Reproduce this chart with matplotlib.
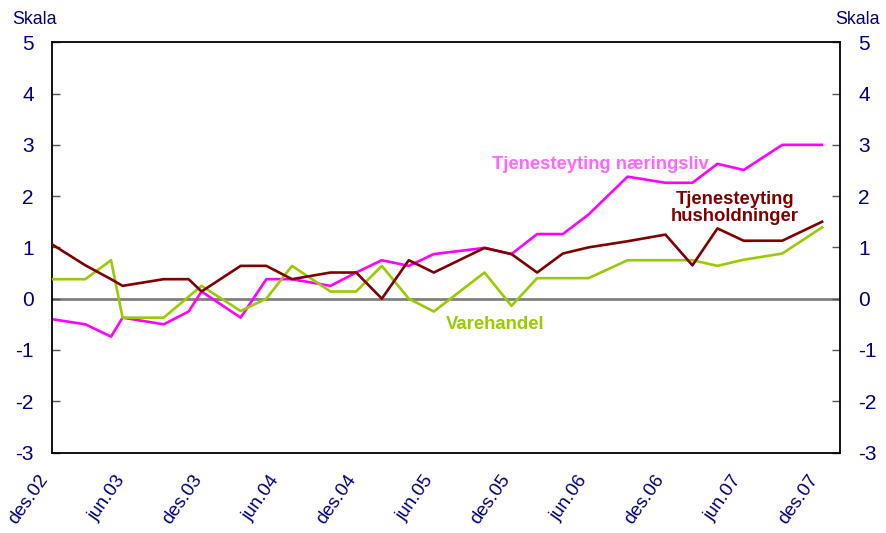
import matplotlib
matplotlib.use("Agg")
import matplotlib.pyplot as plt

plt.rcParams['font.family'] = ['Liberation Sans', 'DejaVu Sans']

# months after des.02 for each survey round
months = [0.0, 2.6, 4.6, 5.5, 8.7, 10.65, 11.65, 14.7, 16.7, 18.7, 21.7, 23.7, 25.7,
          27.8, 29.75, 33.7, 35.8, 37.8, 39.8, 41.8, 44.85, 47.8, 49.9, 51.85, 53.9,
          56.9, 60.0]

naeringsliv = [-0.40, -0.50, -0.74, -0.37, -0.50, -0.25, 0.14, -0.37, 0.38, 0.38, 0.25,
               0.51, 0.75, 0.64, 0.87, 0.99, 0.87, 1.26, 1.26, 1.64, 2.38, 2.26, 2.26,
               2.63, 2.51, 3.00, 3.00]
husholdninger = [1.06, 0.65, 0.38, 0.25, 0.38, 0.38, 0.14, 0.64, 0.64, 0.38, 0.51,
                 0.51, 0.00, 0.75, 0.51, 0.99, 0.87, 0.51, 0.88, 1.00, 1.12, 1.25, 0.65,
                 1.37, 1.13, 1.13, 1.50]
varehandel = [0.38, 0.38, 0.75, -0.37, -0.37, 0.04, 0.25, -0.24, 0.00, 0.64, 0.14,
              0.14, 0.64, 0.00, -0.25, 0.51, -0.14, 0.40, 0.40, 0.40, 0.75, 0.75, 0.75,
              0.64, 0.76, 0.88, 1.39]

tick_months = [0, 6, 12, 18, 24, 30, 36, 42, 48, 54, 60]
tick_labels = ['des.02', 'jun.03', 'des.03', 'jun.04', 'des.04', 'jun.05', 'des.05',
               'jun.06', 'des.06', 'jun.07', 'des.07']
yticks = [-3, -2, -1, 0, 1, 2, 3, 4, 5]

navy = '#000080'
pink = '#FF00FF'
brown = '#800000'
green = '#99CC00'

fig = plt.figure(figsize=(8.87, 5.33), dpi=100)
ax = fig.add_axes([52/887, 1-452.5/533, (840-52)/887, (452.5-42.3)/533])

ax.axhline(0, color='#808080', lw=2, zorder=1)
ax.plot(months, varehandel, color=green, lw=1.9, zorder=3)
ax.plot(months, husholdninger, color=brown, lw=1.9, zorder=4)
ax.plot(months, naeringsliv, color=pink, lw=1.9, zorder=2)

ax.set_xlim(0, 61.4)
ax.set_ylim(-3, 5)
ax.set_yticks(yticks)
ax.set_yticklabels([str(v) for v in yticks])
ax.tick_params(axis='y', which='both', direction='in', length=6, width=1,
               color='#555555', left=True, right=True, labelleft=True,
               labelright=True, labelsize=15, labelcolor=navy, pad=13)
ax.set_xticks(tick_months)
ax.set_xticklabels(tick_labels, rotation=55, ha='right', va='top',
                   fontsize=13.5, color=navy)
ax.tick_params(axis='x', length=0, pad=14)

for s in ax.spines.values():
    s.set_color('black')
    s.set_linewidth(1.3)

ax.text(42.7, 2.61, 'Tjenesteyting næringsliv', color='#FF66FF', fontsize=13.3,
        fontweight='bold', ha='center', va='center')
ax.text(53.2, 1.77, 'Tjenesteyting\nhusholdninger', color=brown, fontsize=13.3,
        fontweight='bold', ha='center', va='center', linespacing=1.0)
ax.text(34.5, -0.51, 'Varehandel', color=green, fontsize=13.3,
        fontweight='bold', ha='center', va='center')

fig.text(12/887, 1-19/533, 'Skala', color=navy, fontsize=12.8, ha='left', va='center')
fig.text(835/887, 1-19/533, 'Skala', color=navy, fontsize=12.8, ha='left', va='center')

fig.savefig('out.png', dpi=100)
